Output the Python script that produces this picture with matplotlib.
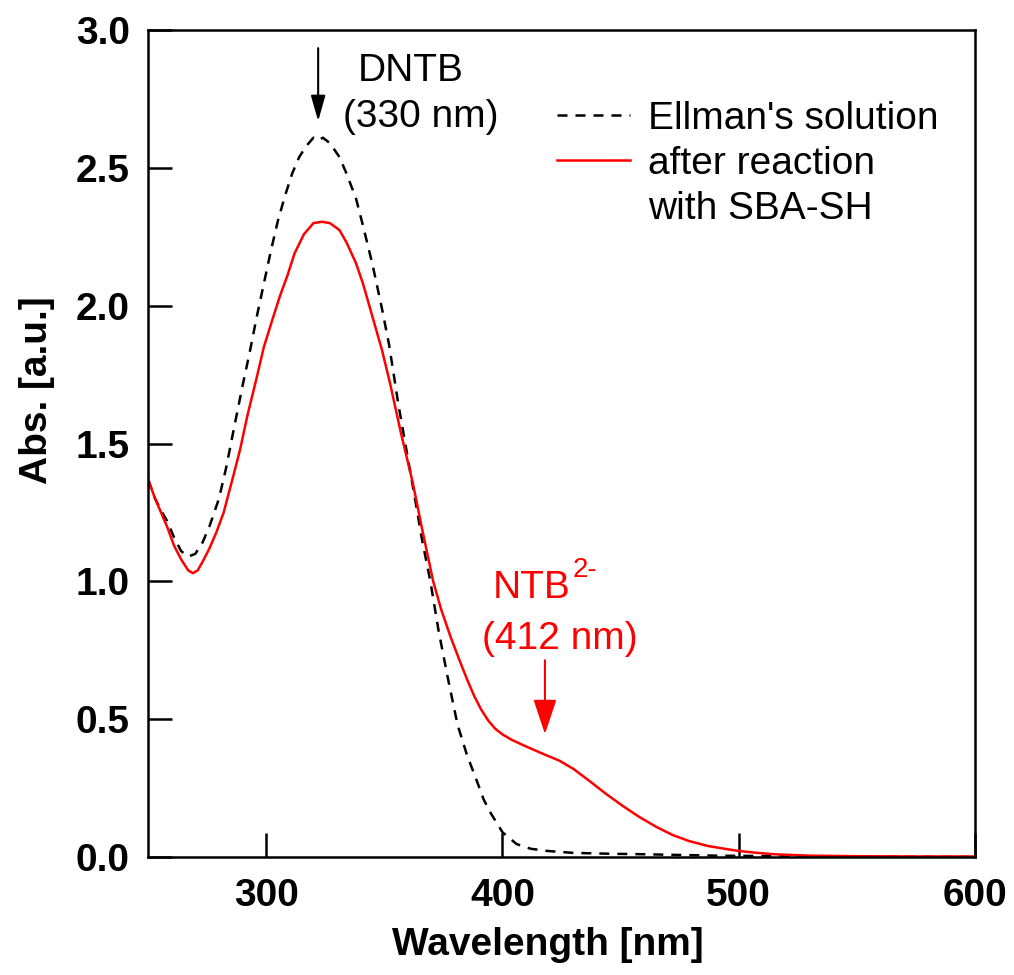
import matplotlib
matplotlib.use("Agg")
import matplotlib.pyplot as plt
from matplotlib.lines import Line2D

plt.rcParams['font.family'] = ['Liberation Sans', 'DejaVu Sans']

# Ellman's solution (dashed black)
wl_ellman = [250, 253, 256, 258, 261, 264, 267, 270, 273, 276, 280, 283, 286, 290,
             293, 296, 299, 302, 305, 308, 311, 314, 317, 320, 322, 324, 327, 331,
             334, 338, 341, 345, 349, 352, 356, 359.5, 363, 366, 369.5, 373, 377,
             381, 385, 389, 392, 395, 400, 406, 412, 419, 430, 445, 460, 490, 520,
             560, 600]
abs_ellman = [1.37, 1.30, 1.25, 1.22, 1.16, 1.11, 1.09, 1.10, 1.14, 1.20, 1.30, 1.41,
              1.54, 1.71, 1.83, 1.96, 2.08, 2.20, 2.31, 2.40, 2.48, 2.54, 2.58, 2.61,
              2.60, 2.61, 2.59, 2.54, 2.48, 2.39, 2.29, 2.15, 1.99, 1.86, 1.64, 1.47,
              1.30, 1.15, 1.00, 0.82, 0.645, 0.48, 0.37, 0.28, 0.21, 0.16, 0.09, 0.047,
              0.03, 0.022, 0.015, 0.012, 0.01, 0.005, 0.003, 0.001, 0.0]

# after reaction with SBA-SH (solid red)
wl_sba = [250, 253, 256, 258, 261, 264, 267, 269, 271, 273, 276, 279, 282, 286, 289,
          292, 296, 299, 303, 306, 309, 312, 316, 320, 323.5, 327, 331, 334, 338, 341,
          345, 349, 352.4, 357, 362, 366, 370.7, 374, 378, 382, 385, 388, 391, 394,
          397, 400, 404, 409, 417, 424, 430, 437, 444, 451, 458, 465, 472, 479, 487,
          494, 500, 508, 515, 530, 550, 575, 600]
abs_sba = [1.37, 1.30, 1.24, 1.20, 1.13, 1.08, 1.04, 1.03, 1.04, 1.07, 1.12, 1.18,
           1.25, 1.38, 1.48, 1.60, 1.74, 1.85, 1.96, 2.04, 2.11, 2.19, 2.26, 2.30,
           2.305, 2.30, 2.275, 2.23, 2.155, 2.08, 1.96, 1.84, 1.72, 1.54, 1.36, 1.19,
           1.00, 0.90, 0.80, 0.71, 0.645, 0.585, 0.535, 0.495, 0.465, 0.445, 0.425,
           0.405, 0.375, 0.35, 0.32, 0.275, 0.228, 0.185, 0.145, 0.11, 0.08, 0.058,
           0.04, 0.03, 0.022, 0.015, 0.01, 0.005, 0.003, 0.002, 0.002]

x_ticks = [300, 400, 500, 600]
y_ticks = [0.0, 0.5, 1.0, 1.5, 2.0, 2.5, 3.0]

red = '#ff0000'

fig = plt.figure(figsize=(10.14, 9.75), dpi=100)
ax = fig.add_axes([0.146, 0.121, 0.8155, 0.848])

ax.plot(wl_ellman, abs_ellman, color='black', lw=1.8, linestyle=(0, (4.0, 3.2)),
        label="Ellman's solution")
ax.plot(wl_sba, abs_sba, color=red, lw=1.8, label='after reaction')

ax.set_xlim(250, 600)
ax.set_ylim(0, 3.0)
ax.set_xticks(x_ticks)
ax.set_yticks(y_ticks)
ax.set_yticklabels([f'{v:.1f}' for v in y_ticks])
ax.tick_params(direction='in', length=17, width=1.8, labelsize=28, pad=13,
               top=False, right=False)
ax.tick_params(axis='x', pad=15)
for lbl in ax.get_xticklabels() + ax.get_yticklabels():
    lbl.set_fontweight('bold')
for sp in ax.spines.values():
    sp.set_linewidth(1.8)

ax.set_xlabel('Wavelength [nm]', fontsize=28, fontweight='bold')
ax.set_ylabel('Abs. [a.u.]', fontsize=28, fontweight='bold')
ax.xaxis.set_label_coords(0.484, -0.085)
ax.yaxis.set_label_coords(-0.112, 0.565)

# DNTB peak marker
ax.annotate('', xy=(322, 2.67), xytext=(322, 2.935),
            arrowprops=dict(arrowstyle='-|>,head_length=0.6,head_width=0.17',
                            color='black', lw=1.5, mutation_scale=26,
                            shrinkA=0, shrinkB=0))
ax.text(338.8, 2.815, 'DNTB', fontsize=28, ha='left', va='baseline')
ax.text(332.5, 2.649, '(330 nm)', fontsize=28, ha='left', va='baseline')

# NTB2- shoulder marker
ax.annotate('', xy=(418, 0.446), xytext=(418, 0.714),
            arrowprops=dict(arrowstyle='-|>,head_length=0.6,head_width=0.2',
                            color=red, lw=1.5, mutation_scale=36,
                            shrinkA=0, shrinkB=0))
ntb = ax.text(396.0, 0.939, 'NTB', fontsize=28, color=red, ha='left', va='baseline')
ax.annotate('2-', xy=(1.0, 0.8), xycoords=ntb, xytext=(1, 0),
            textcoords='offset points', fontsize=20, color=red,
            ha='left', va='baseline')
ax.text(391.4, 0.755, '(412 nm)', fontsize=28, color=red, ha='left', va='baseline')

# legend: third row only carries the second line of the red label
handles, labels = ax.get_legend_handles_labels()
handles.append(Line2D([], [], linestyle='none'))
labels.append('with SBA-SH')
ax.legend(handles, labels, loc='upper left', bbox_to_anchor=(0.4946, 0.915),
          frameon=False, fontsize=28, handlelength=1.88, handletextpad=0.46,
          labelspacing=0.24, borderpad=0, borderaxespad=0)

fig.savefig('out.png', dpi=100)
